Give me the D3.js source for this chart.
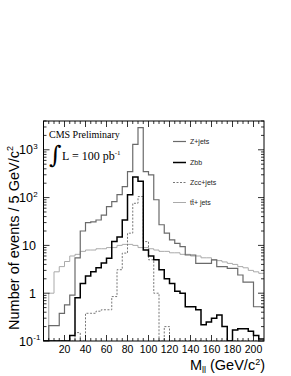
<!DOCTYPE html>
<html>
<head>
<meta charset="utf-8">
<script src="https://cdn.jsdelivr.net/npm/d3@7"></script>
<style>
body { margin: 0; background: #fff; }
text { font-family: "Liberation Sans", Arial, sans-serif; }
</style>
</head>
<body>
<div id="chart"></div>
<script>
// bin low edges (5 GeV bins)
var binLow = [0, 5, 10, 15, 20, 25, 30, 35, 40, 45, 50, 55, 60, 65, 70, 75, 80, 85, 90, 95,
  100, 105, 110, 115, 120, 125, 130, 135, 140, 145, 150, 155, 160, 165, 170, 175, 180, 185, 190, 195, 200, 205];

var zJets = [0, 0.21, 0.21, 0.38, 0.57, 0.91, 5.5, 20, 30, 31, 34, 43, 65, 82, 115, 170, 350, 1300, 2900, 350,
  300, 90, 27, 18, 13, 11, 9.4, 6.3, 6.3, 4.2, 4.2, 4.2, 5.0, 3.6, 3.6, 3.3, 3.3, 2.4, 1.7, 1.7, 0.52, 0.52];

var zbb = [0, 0, 0, 0, 0, 0.13, 0.8, 1.6, 2.3, 2.8, 3.4, 4.3, 5.4, 12, 15, 34, 115, 270, 220, 8,
  6, 5.0, 3.1, 2.0, 1.6, 1.1, 1.0, 0.52, 0.52, 0.45, 0.22, 0.25, 0.30, 0.35, 0.2, 0, 0.17, 0.18, 0.18, 0.16, 0.13, 0.11];

var zcc = [0, 0, 0, 0, 0, 0, 0.15, 0, 0.38, 0.38, 0.42, 0.45, 0.45, 0.85, 3.1, 6.9, 18, 76, 105, 12,
  5, 1.0, 0, 0.2, 0, 0, 0, 0, 0, 0, 0, 0, 0, 0, 0, 0, 0, 0, 0, 0, 0, 0];

var ttJets = [0, 1.0, 2.8, 3.6, 4.6, 6.0, 6.5, 7.5, 8, 8, 8.5, 8.5, 9, 9, 10, 10.5, 10.5, 10, 9, 9,
  8.5, 8, 7.5, 7.5, 7, 7, 6.5, 6.5, 6, 6, 5.5, 5.5, 5, 4.8, 4.5, 4.2, 4, 3.6, 3.4, 3.0, 2.8, 2.6];

var seriesNames = ["Z+jets", "Zbb", "Zcc+jets", "t\u0074\u0304+ jets"];
var xTickLabels = [20, 40, 60, 80, 100, 120, 140, 160, 180, 200];
var yTickVals = [0.1, 1, 10, 100, 1000];
var yTickBase = ["10", "1", "10", "10", "10"];
var yTickExp = ["-1", "", "", "2", "3"];

var svgWidth = 291, svgHeight = 376;
var margin = {top: 121, right: 27, bottom: 35, left: 43.5};
var width = svgWidth - margin.left - margin.right;
var height = svgHeight - margin.top - margin.bottom;

var svg = d3.select("#chart").append("svg")
  .attr("width", svgWidth)
  .attr("height", svgHeight);

var x = d3.scaleLinear().domain([0, 210]).range([margin.left, margin.left + width]);
var y = d3.scaleLog().domain([0.1, 4000]).range([margin.top + height, margin.top]);

svg.append("clipPath").attr("id", "frameClip")
  .append("rect")
  .attr("x", margin.left).attr("y", margin.top)
  .attr("width", width).attr("height", height);

// step path for a histogram
function histPath(vals) {
  var yy = function(v) { return v > 0.1 ? y(v) : y(0.1); };
  var p = "M" + x(binLow[0]) + "," + yy(vals[0]);
  vals.forEach(function(v, i) {
    if (i > 0) p += "L" + x(binLow[i]) + "," + yy(v);
    p += "L" + x(binLow[i] + 5) + "," + yy(v);
  });
  return p;
}

var styles = [
  {data: ttJets, color: "#aaaaaa", w: 1, dash: null},
  {data: zcc, color: "#777777", w: 1, dash: "2,1.5"},
  {data: zJets, color: "#6a6a6a", w: 1.2, dash: null},
  {data: zbb, color: "#000000", w: 1.5, dash: null}
];

var plot = svg.append("g").attr("clip-path", "url(#frameClip)");
styles.forEach(function(s) {
  plot.append("path")
    .attr("d", histPath(s.data))
    .attr("fill", "none")
    .attr("stroke", s.color)
    .attr("stroke-width", s.w)
    .attr("stroke-dasharray", s.dash);
});

// frame
svg.append("rect")
  .attr("x", margin.left).attr("y", margin.top)
  .attr("width", width).attr("height", height)
  .attr("fill", "none").attr("stroke", "#000").attr("stroke-width", 1);

// x ticks (bottom and top, inside)
var ticks = svg.append("g").attr("stroke", "#000").attr("stroke-width", 0.8);
for (var v = 5; v < 210; v += 5) {
  var len = (v % 20 === 0) ? 6 : 3;
  ticks.append("line").attr("x1", x(v)).attr("x2", x(v))
    .attr("y1", y(0.1)).attr("y2", y(0.1) - len);
  ticks.append("line").attr("x1", x(v)).attr("x2", x(v))
    .attr("y1", margin.top).attr("y2", margin.top + len);
}
// y ticks (left and right, inside)
for (var d = -1; d <= 3; d++) {
  for (var m = 1; m <= 9; m++) {
    var val = m * Math.pow(10, d);
    if (val > 4000) continue;
    var l = (m === 1) ? 6 : 3;
    ticks.append("line").attr("x1", margin.left).attr("x2", margin.left + l)
      .attr("y1", y(val)).attr("y2", y(val));
    ticks.append("line").attr("x1", margin.left + width).attr("x2", margin.left + width - l)
      .attr("y1", y(val)).attr("y2", y(val));
  }
}

// x tick labels
svg.append("g").selectAll("text")
  .data(xTickLabels)
  .enter().append("text")
  .attr("x", d => x(d))
  .attr("y", 353)
  .attr("text-anchor", "middle")
  .attr("font-size", 10.5)
  .text(d => d);

// y tick labels
yTickVals.forEach(function(v, i) {
  var t = svg.append("text")
    .attr("x", yTickExp[i] ? 33 : 36)
    .attr("y", y(v) + 4.5)
    .attr("text-anchor", "end")
    .attr("font-size", 12.5)
    .text(yTickBase[i]);
  if (yTickExp[i]) {
    svg.append("text")
      .attr("x", 33.3).attr("y", y(v) - 1)
      .attr("font-size", 8)
      .text(yTickExp[i]);
  }
});

// axis titles
var yt = svg.append("text")
  .attr("transform", "translate(19,146) rotate(-90)")
  .attr("text-anchor", "end")
  .attr("font-size", 14.5);
yt.append("tspan").text("Number of events / 5 GeV/c");
yt.append("tspan").attr("font-size", 9).attr("dy", -6).text("2");

var xt = svg.append("text")
  .attr("x", 265).attr("y", 370)
  .attr("text-anchor", "end")
  .attr("font-size", 14.5);
xt.append("tspan").text("M");
xt.append("tspan").attr("font-size", 9).attr("dy", 3).text("ll");
xt.append("tspan").attr("dy", -3).text(" (GeV/c");
xt.append("tspan").attr("font-size", 9).attr("dy", -5.5).text("2");
xt.append("tspan").attr("dy", 5.5).text(")");

// CMS label (serif, set as style so the css rule does not win)
svg.append("text")
  .attr("x", 49).attr("y", 138)
  .style("font-family", "'Liberation Serif', serif")
  .attr("font-size", 10)
  .text("CMS Preliminary");
svg.append("text")
  .attr("x", 49).attr("y", 163)
  .style("font-family", "'DejaVu Serif', serif")
  .attr("font-size", 24)
  .text("\u222B");
var lum = svg.append("text")
  .attr("x", 62).attr("y", 160)
  .style("font-family", "'Liberation Serif', serif")
  .attr("font-size", 12);
lum.append("tspan").text("L = 100 pb");
lum.append("tspan").attr("font-size", 7).attr("dy", -5).text("-1");

// legend
var legendY = [141.5, 162.5, 182.5, 202.5];
var legendStyle = [styles[2], styles[3], styles[1], styles[0]];
seriesNames.forEach(function(name, i) {
  var s = legendStyle[i];
  svg.append("line")
    .attr("x1", 173).attr("x2", 186)
    .attr("y1", legendY[i]).attr("y2", legendY[i])
    .attr("stroke", s.color).attr("stroke-width", s.w)
    .attr("stroke-dasharray", s.dash);
  svg.append("text")
    .attr("x", 190).attr("y", legendY[i] + 2.5)
    .attr("font-size", 7)
    .attr("fill", "#222")
    .text(name);
});
</script>
</body>
</html>
